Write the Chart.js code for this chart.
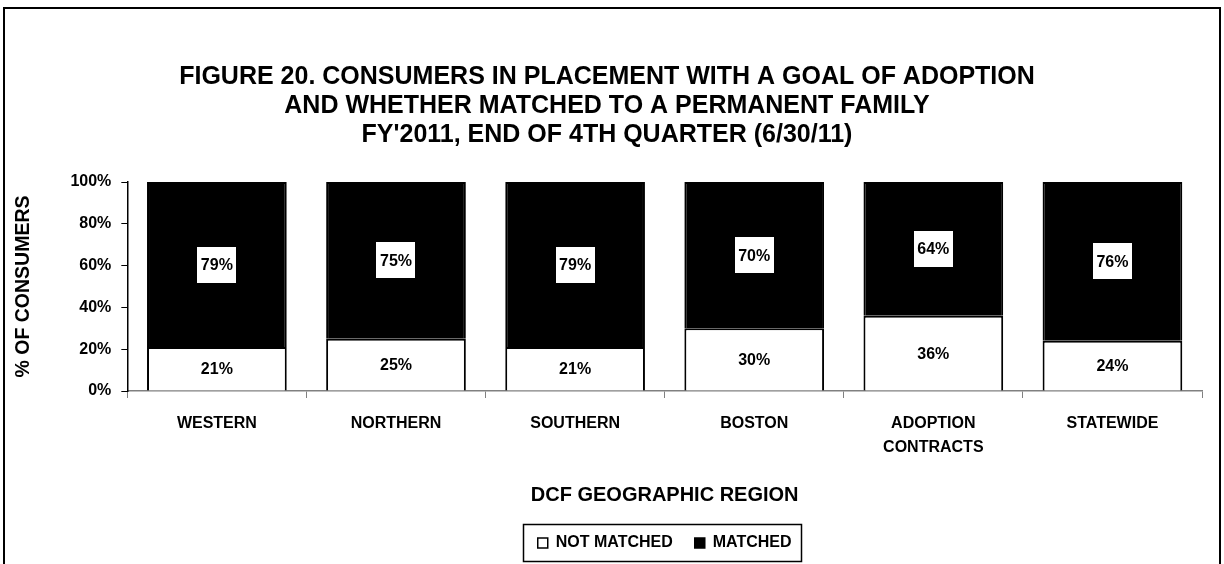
<!DOCTYPE html>
<html>
<head>
<meta charset="utf-8">
<script src="https://cdn.jsdelivr.net/npm/chart.js@4"></script>
<style>
    body { margin: 0; background: #ffffff; }
    #wrap { position: relative; width: 1224px; height: 564px; }
</style>
</head>
<body>
<div id="wrap"><canvas id="chart" width="1224" height="564"></canvas></div>
<script>
'use strict';

/******************************************************************************************
DATA
******************************************************************************************/

const regions = [['WESTERN'], ['NORTHERN'], ['SOUTHERN'], ['BOSTON'], ['ADOPTION', 'CONTRACTS'], ['STATEWIDE']];
const notMatched = [21, 25, 21, 30, 36, 24];
const matched = [79, 75, 79, 70, 64, 76];
const yTicks = [0, 20, 40, 60, 80, 100];

const FONT = "'Liberation Sans', Arial, sans-serif";


/******************************************************************************************
PLUGINS
******************************************************************************************/

// outer frame of the figure
const framePlugin = {
    id: 'frame',
    beforeDraw(chart) {
        const ctx = chart.ctx;
        ctx.save();
        ctx.fillStyle = '#ffffff';
        ctx.fillRect(0, 0, chart.width, chart.height);
        ctx.strokeStyle = '#000000';
        ctx.lineWidth = 2;
        ctx.strokeRect(4, 8, 1216, 600);
        ctx.restore();
    }
};

// percentage labels on each segment
const valueLabels = {
    id: 'valueLabels',
    afterDatasetsDraw(chart) {
        const ctx = chart.ctx;
        ctx.save();
        ctx.font = 'bold 16px ' + FONT;
        ctx.textAlign = 'center';
        ctx.textBaseline = 'middle';
        chart.data.datasets.forEach((ds, di) => {
            chart.getDatasetMeta(di).data.forEach((bar, i) => {
                const cy = (bar.y + bar.base) / 2;
                const txt = ds.data[i] + '%';
                if (di === 1) {
                    const w = ctx.measureText(txt).width + 7;
                    ctx.fillStyle = '#ffffff';
                    ctx.fillRect(Math.round(bar.x - w / 2), Math.round(cy - 18), Math.round(w), 36);
                }
                ctx.fillStyle = '#000000';
                ctx.fillText(txt, bar.x, cy + 1);
            });
        });
        ctx.restore();
    }
};

// border around the legend
const legendBox = {
    id: 'legendBox',
    afterDraw(chart) {
        const boxes = chart.legend.legendHitBoxes;
        if (!boxes || !boxes.length) return;
        let l = Infinity, r = -Infinity, t = Infinity, b = -Infinity;
        boxes.forEach(h => {
            l = Math.min(l, h.left); r = Math.max(r, h.left + h.width);
            t = Math.min(t, h.top); b = Math.max(b, h.top + h.height);
        });
        const ctx = chart.ctx;
        ctx.save();
        ctx.strokeStyle = '#000000';
        ctx.lineWidth = 1.5;
        const cy = (t + b) / 2;
        ctx.strokeRect(Math.round(l) - 14.5, Math.round(cy) - 18.5, Math.round(r - l) + 24, 37);
        ctx.restore();
    }
};


/******************************************************************************************
CHART
******************************************************************************************/

new Chart(document.getElementById('chart'), {
    type: 'bar',
    data: {
        labels: regions,
        datasets: [{
            label: 'NOT MATCHED',
            data: notMatched,
            backgroundColor: '#ffffff',
            borderColor: '#000000',
            borderWidth: 2
        }, {
            label: 'MATCHED',
            data: matched,
            backgroundColor: '#000000',
            borderColor: '#000000',
            borderWidth: 2
        }]
    },
    options: {
        responsive: false,
        animation: false,
        devicePixelRatio: 1,
        categoryPercentage: 0.78,
        barPercentage: 1,
        layout: { padding: { left: 12, right: 22, top: 63, bottom: 3 } },
        plugins: {
            title: {
                display: true,
                text: ['FIGURE 20. CONSUMERS IN PLACEMENT WITH A GOAL OF ADOPTION',
                       'AND WHETHER MATCHED TO A PERMANENT FAMILY',
                       "FY'2011, END OF 4TH QUARTER (6/30/11)"],
                color: '#000000',
                font: { family: FONT, size: 25, weight: 'bold', lineHeight: 1.16 },
                padding: { top: 0, bottom: 32 }
            },
            legend: {
                position: 'bottom',
                fullSize: false,
                labels: {
                    color: '#000000',
                    font: { family: FONT, size: 16, weight: 'bold' },
                    boxWidth: 10,
                    boxHeight: 10,
                    padding: 22,
                    generateLabels(chart) {
                        return chart.data.datasets.map((ds, i) => ({
                            text: ds.label,
                            fillStyle: ds.backgroundColor,
                            strokeStyle: '#000000',
                            lineWidth: 1.5,
                            datasetIndex: i
                        }));
                    }
                }
            },
            tooltip: { enabled: false }
        },
        scales: {
            x: {
                stacked: true,
                border: { color: '#808080', width: 1.5 },
                grid: { offset: true, drawOnChartArea: false, drawTicks: true, tickLength: 7, color: '#808080' },
                ticks: {
                    color: '#000000',
                    padding: 14,
                    maxRotation: 0,
                    font: { family: FONT, size: 16, weight: 'bold', lineHeight: 1.5 }
                },
                title: {
                    display: true,
                    text: 'DCF GEOGRAPHIC REGION',
                    color: '#000000',
                    font: { family: FONT, size: 20, weight: 'bold' },
                    padding: { top: 9, bottom: 6 }
                }
            },
            y: {
                stacked: true,
                min: 0,
                max: 100,
                border: { color: '#000000', width: 1.5 },
                grid: { drawOnChartArea: false, drawTicks: true, tickLength: 6, color: '#000000' },
                ticks: {
                    stepSize: 10,
                    color: '#000000',
                    padding: 10,
                    font: { family: FONT, size: 16, weight: 'bold' },
                    callback: v => yTicks.includes(v) ? v + '%' : ''
                },
                title: {
                    display: true,
                    text: '% OF CONSUMERS',
                    color: '#000000',
                    font: { family: FONT, size: 19.5, weight: 'bold' },
                    padding: { top: 0, bottom: 25 }
                }
            }
        }
    },
    plugins: [framePlugin, valueLabels, legendBox]
});
</script>
</body>
</html>
